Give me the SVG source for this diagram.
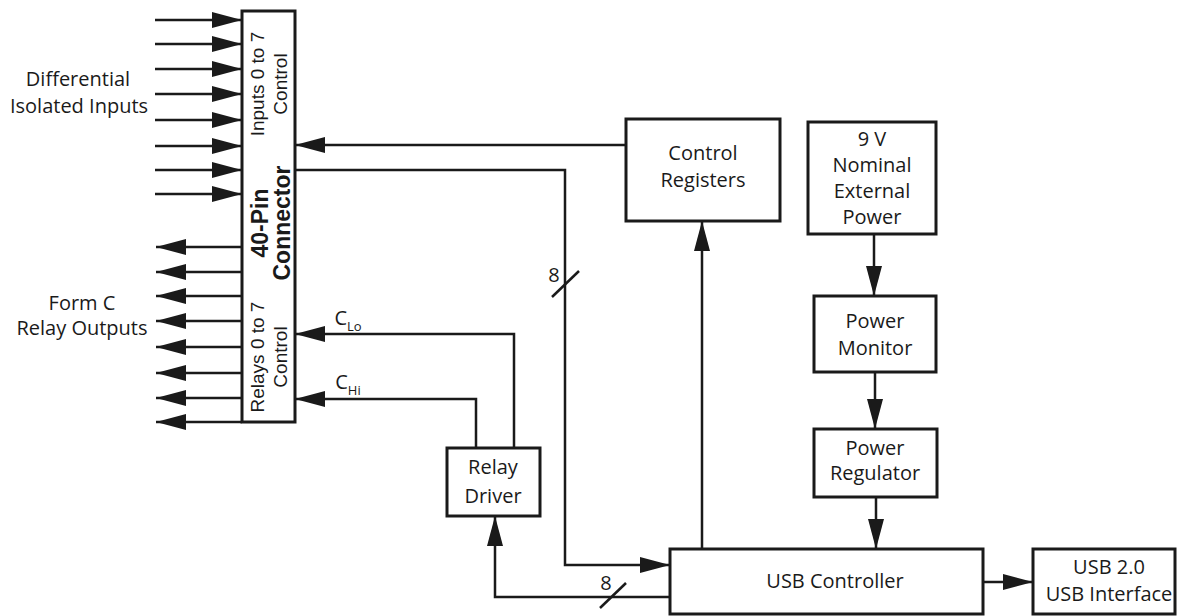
<svg xmlns="http://www.w3.org/2000/svg" width="1177" height="616" viewBox="0 0 1177 616">
<style>
.box{fill:#fff;stroke:#1a1a1a;stroke-width:3}
.ln{fill:none;stroke:#1a1a1a;stroke-width:2.5}
.t{font-family:"Open Sans","Noto Sans",sans-serif;font-size:20px;fill:#1a1a1a;text-anchor:middle}
.r{font-family:"Liberation Sans",Arial,sans-serif;font-size:19px;fill:#1a1a1a;text-anchor:middle}
.rb{font-family:"Liberation Sans",Arial,sans-serif;font-size:23px;font-weight:bold;fill:#1a1a1a;text-anchor:middle}
.sub{font-size:13px}
</style>
<defs>
<marker id="ah" markerWidth="30" markerHeight="16" refX="30" refY="8" orient="auto" markerUnits="userSpaceOnUse">
<path d="M0,0 L30,8 L0,16 z" fill="#1a1a1a"/>
</marker>
</defs>
<rect width="1177" height="616" fill="#fff"/>

<g id="connectors">
<!-- input arrows -->
<path class="ln" marker-end="url(#ah)" d="M155,20H242"/>
<path class="ln" marker-end="url(#ah)" d="M155,44H242"/>
<path class="ln" marker-end="url(#ah)" d="M155,69H242"/>
<path class="ln" marker-end="url(#ah)" d="M155,94H242"/>
<path class="ln" marker-end="url(#ah)" d="M155,120H242"/>
<path class="ln" marker-end="url(#ah)" d="M155,146H242"/>
<path class="ln" marker-end="url(#ah)" d="M155,170H242"/>
<path class="ln" marker-end="url(#ah)" d="M155,194H242"/>
<!-- output arrows -->
<path class="ln" marker-end="url(#ah)" d="M242,247H156"/>
<path class="ln" marker-end="url(#ah)" d="M242,272H156"/>
<path class="ln" marker-end="url(#ah)" d="M242,296H156"/>
<path class="ln" marker-end="url(#ah)" d="M242,321H156"/>
<path class="ln" marker-end="url(#ah)" d="M242,347H156"/>
<path class="ln" marker-end="url(#ah)" d="M242,373H156"/>
<path class="ln" marker-end="url(#ah)" d="M242,398H156"/>
<path class="ln" marker-end="url(#ah)" d="M242,422H156"/>
<!-- control registers to connector -->
<path class="ln" marker-end="url(#ah)" d="M626,145H295"/>
<!-- connector to USB controller (8 bit) -->
<path class="ln" marker-end="url(#ah)" d="M295,170H565V565H670"/>
<line class="ln" x1="552" y1="297" x2="579" y2="271"/>
<text class="t" x="554" y="282">8</text>
<!-- USB controller to control registers -->
<path class="ln" marker-end="url(#ah)" d="M702,549V221"/>
<!-- USB controller to relay driver -->
<path class="ln" marker-end="url(#ah)" d="M670,597H495V516"/>
<line class="ln" x1="600" y1="608" x2="626" y2="583"/>
<text class="t" x="606" y="590">8</text>
<!-- relay driver to connector -->
<path class="ln" marker-end="url(#ah)" d="M514,448V334H295"/>
<path class="ln" marker-end="url(#ah)" d="M476,448V399H295"/>
<text class="t" x="348" y="325" text-anchor="start">C<tspan class="sub" dy="6">Lo</tspan></text>
<text class="t" x="348" y="389" text-anchor="start">C<tspan class="sub" dy="6">Hi</tspan></text>
<!-- power chain -->
<path class="ln" marker-end="url(#ah)" d="M874,234V296"/>
<path class="ln" marker-end="url(#ah)" d="M875,372V429"/>
<path class="ln" marker-end="url(#ah)" d="M876,497V549"/>
<!-- USB controller to USB interface -->
<path class="ln" marker-end="url(#ah)" d="M983,582H1033"/>
</g>

<g id="labels">
<text class="t" x="78" y="86">Differential</text>
<text class="t" x="79" y="113">Isolated Inputs</text>
<text class="t" x="82" y="310">Form C</text>
<text class="t" x="82" y="335">Relay Outputs</text>
</g>

<g id="connector40">
<rect class="box" x="242" y="11" width="53" height="411"/>
<text class="r" transform="rotate(-90 264 84)" x="264" y="84">Inputs 0 to 7</text>
<text class="r" transform="rotate(-90 287 84)" x="287" y="84">Control</text>
<text class="rb" transform="rotate(-90 268 223)" x="268" y="223">40-Pin</text>
<text class="rb" transform="rotate(-90 290 223)" x="290" y="223">Connector</text>
<text class="r" transform="rotate(-90 264 357)" x="264" y="357">Relays 0 to 7</text>
<text class="r" transform="rotate(-90 287 357)" x="287" y="357">Control</text>
</g>

<g id="control-registers">
<rect class="box" x="626" y="119" width="154" height="102"/>
<text class="t" x="703" y="160">Control</text>
<text class="t" x="703" y="187">Registers</text>
</g>

<g id="external-power">
<rect class="box" x="808" y="122" width="128" height="112"/>
<text class="t" x="872" y="146">9 V</text>
<text class="t" x="872" y="172">Nominal</text>
<text class="t" x="872" y="198">External</text>
<text class="t" x="872" y="224">Power</text>
</g>

<g id="power-monitor">
<rect class="box" x="814" y="296" width="122" height="76"/>
<text class="t" x="875" y="328">Power</text>
<text class="t" x="875" y="355">Monitor</text>
</g>

<g id="power-regulator">
<rect class="box" x="814" y="429" width="123" height="68"/>
<text class="t" x="875" y="455">Power</text>
<text class="t" x="875" y="480">Regulator</text>
</g>

<g id="relay-driver">
<rect class="box" x="447" y="448" width="93" height="68"/>
<text class="t" x="493" y="474">Relay</text>
<text class="t" x="493" y="503">Driver</text>
</g>

<g id="usb-controller">
<rect class="box" x="670" y="549" width="313" height="65"/>
<text class="t" x="835" y="588">USB Controller</text>
</g>

<g id="usb-interface">
<rect class="box" x="1033" y="549" width="142" height="65"/>
<text class="t" x="1109" y="574">USB 2.0</text>
<text class="t" x="1109" y="601">USB Interface</text>
</g>
</svg>
